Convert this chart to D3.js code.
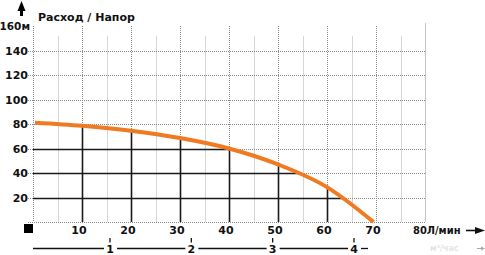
<!DOCTYPE html>
<head>
  <meta charset='utf-8'>
  <style>
      body { margin: 0; background: #fff; }
      svg { display: block; }
      text { font-family: 'DejaVu Sans', sans-serif; font-weight: bold; fill: #111; }
      .dots { stroke: #8c8c8c; stroke-dasharray: 1,1; fill: none; }
      .light { stroke: #d6d6d6; fill: none; }
      .dark { stroke: #1a1a1a; stroke-width: 1.6px; fill: none; }
      .curve { stroke: #f07a22; stroke-width: 4px; fill: none; stroke-linecap: butt; }
      .sec { stroke: #111; stroke-width: 1.3px; }
  </style>
</head>
<body>
<script src='https://d3js.org/d3.v7.min.js'></script>
<script>
    // flow (л/мин) and head (м)
    var flows = [0.4, 10, 20, 30, 40, 50, 60, 69.5],
        heads = [81, 78.5, 74.5, 68.5, 60, 47, 28.5, 0];

    var yTicks = [20, 40, 60, 80, 100, 120, 140, 160],
        yLabels = ['20', '40', '60', '80', '100', '120', '140', '160м'],
        xTicks = [10, 20, 30, 40, 50, 60, 70, 80],
        xLabels = ['10', '20', '30', '40', '50', '60', '70', '80Л/мин'],
        halfTicks = [5, 15, 25, 35, 45, 55, 65, 75],
        darkX = [10, 20, 30, 40, 50, 60],
        darkY = [20, 40, 60],
        m3Ticks = [1, 2, 3, 4];

    var W = 485, H = 255;

    var x = d3.scaleLinear().domain([0, 80]).range([33, 425]),
        y = d3.scaleLinear().domain([0, 160]).range([222, 26]),
        xm3 = d3.scaleLinear().domain([1, 4]).range([110, 354]);

    var svg = d3.select('body').append('svg')
        .attr('width', W)
        .attr('height', H);

    // light vertical lines at half steps
    svg.append('g').selectAll('line')
        .data(halfTicks)
        .enter().append('line')
        .attr('class', 'light')
        .attr('x1', function(d) { return Math.round(x(d)) + 0.5; })
        .attr('x2', function(d) { return Math.round(x(d)) + 0.5; })
        .attr('y1', y(152))
        .attr('y2', y(0));

    // dotted horizontal grid
    svg.append('g').selectAll('line')
        .data(yTicks.slice(0, -1).concat([0]))
        .enter().append('line')
        .attr('class', 'dots')
        .attr('x1', x(0) - 5)
        .attr('x2', x(80))
        .attr('y1', function(d) { return Math.round(y(d)) + 0.5; })
        .attr('y2', function(d) { return Math.round(y(d)) + 0.5; });

    // dotted vertical grid + y axis
    svg.append('g').selectAll('line')
        .data([0].concat(xTicks))
        .enter().append('line')
        .attr('class', 'dots')
        .attr('x1', function(d) { return Math.round(x(d)) + 0.5; })
        .attr('x2', function(d) { return Math.round(x(d)) + 0.5; })
        .attr('y1', function(d) { return d === 80 ? y(162) : y(160); })
        .attr('y2', y(0));

    // orange curve
    var line = d3.line()
        .x(function(d) { return x(d[0]); })
        .y(function(d) { return y(d[1]); })
        .curve(d3.curveMonotoneX);

    var pts = d3.zip(flows, heads);
    var curve = svg.append('path')
        .datum(pts)
        .attr('class', 'curve')
        .attr('d', line);

    // sample the curve to find where grid lines meet it
    var node = curve.node(),
        len = node.getTotalLength(),
        samples = d3.range(0, len, 0.5).map(function(l) { return node.getPointAtLength(l); });

    function curveYAt(px) {
        var best = samples[0];
        samples.forEach(function(p) { if (Math.abs(p.x - px) < Math.abs(best.x - px)) best = p; });
        return best.y;
    }
    function curveXAt(py) {
        var best = samples[0];
        samples.forEach(function(p) { if (Math.abs(p.y - py) < Math.abs(best.y - py)) best = p; });
        return best.x;
    }

    var dark = svg.insert('g', '.curve');
    dark.selectAll('.vx')
        .data(darkX)
        .enter().append('line')
        .attr('class', 'dark')
        .attr('x1', function(d) { return Math.round(x(d)) + 0.5; })
        .attr('x2', function(d) { return Math.round(x(d)) + 0.5; })
        .attr('y1', function(d) { return curveYAt(x(d)); })
        .attr('y2', y(0));
    dark.selectAll('.hy')
        .data(darkY)
        .enter().append('line')
        .attr('class', 'dark')
        .attr('x1', x(0))
        .attr('x2', function(d) { return curveXAt(y(d)); })
        .attr('y1', function(d) { return Math.round(y(d)) + 0.5; })
        .attr('y2', function(d) { return Math.round(y(d)) + 0.5; });

    // y labels
    svg.append('g').selectAll('text')
        .data(yTicks)
        .enter().append('text')
        .attr('x', function(d, i) { return i === yTicks.length - 1 ? 30 : 28; })
        .attr('y', function(d) { return y(d) + 4; })
        .attr('text-anchor', 'end')
        .style('font-size', function(d, i) { return i === yTicks.length - 1 ? '10.5px' : '11px'; })
        .text(function(d, i) { return yLabels[i]; });

    // x labels
    svg.append('g').selectAll('text')
        .data(xTicks)
        .enter().append('text')
        .attr('x', function(d, i) { return i === xTicks.length - 1 ? x(d) - 12 : x(d) - 3; })
        .attr('y', 234)
        .attr('text-anchor', function(d, i) { return i === xTicks.length - 1 ? 'start' : 'middle'; })
        .style('font-size', '11px')
        .style('font-family', function(d, i) { return i === xTicks.length - 1 ? "'Liberation Sans Narrow', 'DejaVu Sans Condensed', sans-serif" : null; })
        .text(function(d, i) { return xLabels[i]; });

    // arrow at x label
    svg.append('line')
        .attr('x1', 466).attr('x2', 477).attr('y1', 230.5).attr('y2', 230.5)
        .attr('stroke', '#111').attr('stroke-width', 1.6);
    svg.append('polygon')
        .attr('points', '475,227 485,230.5 475,234')
        .attr('fill', '#111');

    // arrow on top of y
    svg.append('rect')
        .attr('x', 20).attr('y', 7).attr('width', 3).attr('height', 9)
        .attr('fill', '#000');
    svg.append('polygon')
        .attr('points', '21.5,1 25.5,11 17.5,11')
        .attr('fill', '#000');

    // title
    svg.append('text')
        .attr('x', 38)
        .attr('y', 21)
        .style('font-size', '11px')
        .text('Расход / Напор');

    // black square at origin
    svg.append('rect')
        .attr('x', 24).attr('y', 224).attr('width', 9).attr('height', 9)
        .attr('fill', '#000');

    // secondary axis (м³/час)
    var gap = 6,
        edges = [x(0)].concat(m3Ticks.map(xm3)),
        ends = m3Ticks.map(xm3).concat([xm3(4) + 20]);
    svg.append('g').selectAll('line')
        .data(edges)
        .enter().append('line')
        .attr('class', 'sec')
        .attr('x1', function(d, i) { return i === 0 ? d : d + gap + 1; })
        .attr('x2', function(d, i) { return ends[i] - gap; })
        .attr('y1', 248.5)
        .attr('y2', 248.5);

    var m3 = svg.append('g').selectAll('g')
        .data(m3Ticks)
        .enter().append('g')
        .attr('transform', function(d) { return 'translate(' + xm3(d) + ',0)'; });
    m3.append('line')
        .attr('class', 'sec')
        .attr('y1', 238).attr('y2', 242.5);
    m3.append('text')
        .attr('y', 253)
        .attr('text-anchor', 'middle')
        .style('font-size', '11px')
        .text(function(d) { return d; });

    // faded unit at the right
    svg.append('text')
        .attr('x', 430)
        .attr('y', 251)
        .style('font-size', '8px')
        .style('fill', '#e4e4e4')
        .text('м³/час');
    svg.append('line')
        .attr('x1', 477).attr('x2', 482).attr('y1', 248.5).attr('y2', 248.5)
        .attr('stroke', '#aaa');
    svg.append('polygon')
        .attr('points', '481,246.5 485,248.5 481,250.5')
        .attr('fill', '#aaa');
</script>
</body>
